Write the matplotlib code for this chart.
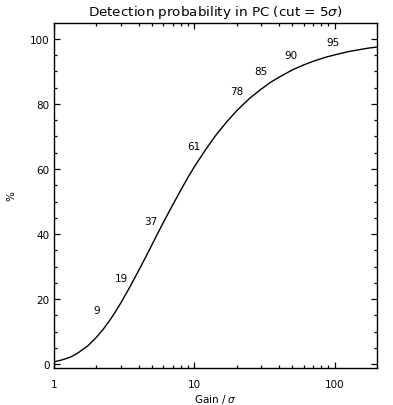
import matplotlib
matplotlib.use("Agg")
import matplotlib.pyplot as plt
from matplotlib.ticker import LogLocator, NullFormatter, FixedLocator, FixedFormatter, MultipleLocator

# Curve points (gain/sigma, detection probability %)
gain = [1.0, 1.1, 1.2, 1.3, 1.4, 1.5, 1.75, 2.0, 2.25, 2.5, 2.75, 3.0, 3.5, 4.0, 4.5,
        5.0, 6.0, 7.0, 8.0, 9.0, 10.0, 12.0, 14.0, 17.0, 20.0, 25.0, 30.0, 35.0,
        40.0, 50.0, 60.0, 70.0, 85.0, 100.0, 125.0, 150.0, 175.0, 200.0]
prob = [0.7, 1.1, 1.6, 2.1, 2.8, 3.6, 5.7, 8.2, 10.8, 13.5, 16.2, 18.9, 24.0, 28.7, 32.9,
        36.8, 43.5, 48.9, 53.5, 57.4, 60.7, 65.9, 70.0, 74.5, 77.9, 81.9, 84.6, 86.7,
        88.2, 90.5, 92.0, 93.1, 94.3, 95.1, 96.1, 96.7, 97.2, 97.5]

# Annotated values and where they sit
ann_text = ["9", "19", "37", "61", "78", "85", "90", "95"]
ann_x = [2.0, 3.0, 4.9, 10.0, 20.0, 30.0, 49.0, 97.0]
ann_y = [16.6, 26.5, 44.0, 67.0, 84.0, 90.2, 95.0, 99.0]

xticks = [1, 10, 100]
xtick_labels = ["1", "10", "100"]

fig = plt.figure(figsize=(3.93, 4.06), dpi=100)
ax = fig.add_axes([54/393, 37/406, (377-54)/393, (369-24)/406])

ax.plot(gain, prob, color="black", lw=1.0)
for t, x, y in zip(ann_text, ann_x, ann_y):
    ax.text(x, y, t, ha="center", va="center", fontsize=7.5)

ax.set_xscale("log")
ax.set_xlim(1, 200)
ax.set_ylim(-1.2, 104.9)

ax.xaxis.set_major_locator(FixedLocator(xticks))
ax.xaxis.set_major_formatter(FixedFormatter(xtick_labels))
ax.xaxis.set_minor_locator(LogLocator(base=10, subs=range(2, 10)))
ax.xaxis.set_minor_formatter(NullFormatter())
ax.yaxis.set_major_locator(MultipleLocator(20))
ax.yaxis.set_minor_locator(MultipleLocator(5))

ax.tick_params(which="both", direction="in", top=True, right=True, labelsize=7.5, width=0.9)
ax.tick_params(which="major", length=4.5)
ax.tick_params(which="minor", length=2.3)
ax.tick_params(axis="x", pad=8)
ax.tick_params(axis="y", pad=3)
for s in ax.spines.values():
    s.set_linewidth(1.0)

ax.set_title("Detection probability in PC (cut = 5$\\sigma$)", fontsize=9.7, pad=6)
ax.set_xlabel("Gain / $\\sigma$", fontsize=7.5, labelpad=2)
ax.set_ylabel("%", fontsize=7.5, labelpad=14)
ax.yaxis.set_label_coords(-38/323, 0.5)

fig.savefig("out.png", dpi=100)
